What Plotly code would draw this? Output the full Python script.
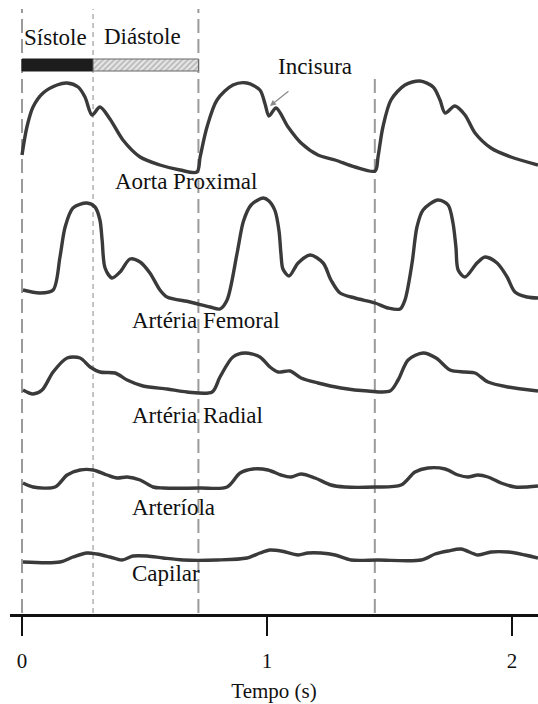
import plotly.graph_objects as go

# ---- pressure pulse recordings (time in s, relative amplitude) ----
aorta_t = [0.000, 0.020, 0.045, 0.086, 0.143, 0.184, 0.229, 0.257, 0.286, 0.318,
           0.359, 0.412, 0.482, 0.563, 0.645, 0.714, 0.727, 0.755, 0.796, 0.861,
           0.918, 0.971, 0.992, 1.008, 1.037, 1.086, 1.139, 1.208, 1.278, 1.359,
           1.441, 1.453, 1.473, 1.506, 1.563, 1.624, 1.678, 1.706, 1.727, 1.767,
           1.808, 1.849, 1.914, 1.996, 2.106]
aorta_v = [17, 45, 65, 79, 87, 89, 85, 75, 57, 65,
           53, 32, 15, 7, 2, 0, 15, 45, 72, 87,
           89, 82, 68, 56, 64, 45, 29, 17, 12, 5,
           1, 15, 45, 72, 87, 91, 85, 72, 59, 66,
           57, 39, 24, 15, 7]

femoral_t = [0.004, 0.073, 0.127, 0.155, 0.176, 0.208, 0.265, 0.298, 0.318, 0.327,
             0.339, 0.367, 0.400, 0.441, 0.482, 0.522, 0.563, 0.592, 0.686, 0.767,
             0.808, 0.837, 0.878, 0.904, 0.935, 0.984, 1.008, 1.033, 1.049, 1.057,
             1.065, 1.090, 1.127, 1.176, 1.229, 1.261, 1.298, 1.359, 1.441, 1.494,
             1.543, 1.563, 1.592, 1.612, 1.637, 1.698, 1.739, 1.759, 1.771, 1.780,
             1.808, 1.857, 1.890, 1.939, 1.980, 2.012, 2.061, 2.106]
femoral_v = [19, 16, 19, 52, 82, 101, 106, 102, 89, 69,
             41, 31, 37, 50, 47, 36, 19, 12, 7, 2,
             0, 9, 56, 88, 104, 111, 108, 98, 78, 55,
             40, 33, 46, 54, 46, 29, 16, 11, 6, 1,
             0, 9, 46, 82, 99, 109, 104, 86, 62, 39,
             32, 46, 52, 46, 32, 17, 12, 11]

radial_t = [0.004, 0.045, 0.082, 0.127, 0.184, 0.237, 0.278, 0.318, 0.380, 0.429,
            0.494, 0.592, 0.673, 0.776, 0.808, 0.861, 0.910, 0.971, 1.012, 1.045,
            1.094, 1.139, 1.208, 1.302, 1.412, 1.502, 1.535, 1.576, 1.637, 1.690,
            1.747, 1.808, 1.849, 1.902, 1.984, 2.106]
radial_v = [4, 0, 4, 22, 36, 36, 27, 22, 21, 14,
            8, 5, 2, 2, 17, 37, 41, 37, 27, 22,
            23, 16, 11, 6, 3, 3, 14, 34, 41, 36,
            24, 22, 21, 12, 7, 3]

arteriole_t = [0.004, 0.045, 0.135, 0.184, 0.237, 0.290, 0.347, 0.388, 0.429, 0.482,
               0.535, 0.576, 0.727, 0.837, 0.890, 0.943, 1.004, 1.057, 1.098, 1.139,
               1.196, 1.261, 1.318, 1.441, 1.547, 1.604, 1.657, 1.727, 1.780, 1.820,
               1.861, 1.902, 1.955, 2.012, 2.106]
arteriole_v = [5, 1, 1, 13, 18, 18, 13, 10, 11, 8,
               1, 0, 0, 1, 15, 19, 18, 13, 11, 14,
               10, 3, 1, 1, 3, 16, 20, 19, 13, 11,
               13, 11, 5, 1, 2]

capillary_t = [0.004, 0.155, 0.208, 0.265, 0.306, 0.359, 0.408, 0.453, 0.510, 0.576,
               0.657, 0.796, 0.918, 0.971, 1.012, 1.057, 1.127, 1.167, 1.220, 1.278,
               1.343, 1.453, 1.629, 1.686, 1.739, 1.792, 1.861, 1.914, 1.984, 2.053,
               2.106]
capillary_v = [0, 0, 5, 9, 8, 5, 2, 6, 6, 4,
               2, 2, 4, 9, 12, 11, 7, 9, 9, 7,
               2, 2, 2, 8, 11, 13, 7, 10, 10, 7,
               4]

# cardiac cycle events (s): start, end of systole, end of cycle, end of 2nd cycle
cycle_marks = [0.0, 0.29, 0.72, 1.44]
systole_end = 0.29
cycle_end = 0.72

tick_vals = [0, 1, 2]
tick_text = ["0", "1", "2"]

SERIF = "Liberation Serif, Times New Roman, serif"
INK = "#3a3a3a"

# vertical stacking of the five recordings
series = [
    ("Aorta Proximal", aorta_t, aorta_v, 442),
    ("Artéria Femoral", femoral_t, femoral_v, 305),
    ("Artéria Radial", radial_t, radial_v, 220),
    ("Arteríola", arteriole_t, arteriole_v, 126),
    ("Capilar", capillary_t, capillary_v, 52),
]
label_pos = {
    "Aorta Proximal": (0.371, 433),
    "Artéria Femoral": (0.441, 294),
    "Artéria Radial": (0.441, 199),
    "Arteríola": (0.441, 107),
    "Capilar": (0.441, 41),
}

fig = go.Figure()

for name, t, v, base in series:
    fig.add_trace(go.Scatter(
        x=t, y=[base + val for val in v], mode="lines", name=name,
        line=dict(color=INK, width=3.4, shape="spline", smoothing=0.85),
        showlegend=False, hoverinfo="skip",
    ))

# systole / diastole bar
bar_y = 549
fig.add_trace(go.Bar(
    orientation="h", y=[bar_y], x=[systole_end], base=[0], width=[12],
    marker=dict(color="#1c1c1c", line=dict(color="#1c1c1c", width=1)),
    showlegend=False, hoverinfo="skip",
))
fig.add_trace(go.Bar(
    orientation="h", y=[bar_y], x=[cycle_end - systole_end], base=[systole_end], width=[12],
    marker=dict(color="white",
                pattern=dict(shape="/", fgcolor="#8a8a8a", bgcolor="#e6e6e6", size=4, solidity=0.45),
                line=dict(color="#666666", width=1)),
    showlegend=False, hoverinfo="skip",
))

# dashed event markers
shapes = []
tops = [605, 605, 605, 536]
for m, top in zip(cycle_marks, tops):
    fine = (m == systole_end)
    shapes.append(dict(
        type="line", xref="x", yref="y", x0=m, x1=m, y0=1, y1=top, layer="below",
        line=dict(color="#b0b0b0" if fine else "#9a9a9a",
                  width=1.5 if fine else 2,
                  dash="5px,4px" if fine else "14px,6px"),
    ))

annotations = []
for name, (lx, ly) in label_pos.items():
    annotations.append(dict(x=lx, y=ly, xref="x", yref="y", text=name, showarrow=False,
                            xanchor="left", yanchor="middle",
                            font=dict(family=SERIF, size=23, color="#111")))
annotations += [
    dict(x=0.135, y=577, xref="x", yref="y", text="Sístole", showarrow=False,
         font=dict(family=SERIF, size=23, color="#111")),
    dict(x=0.492, y=578, xref="x", yref="y", text="Diástole", showarrow=False,
         font=dict(family=SERIF, size=23, color="#111")),
    dict(x=1.196, y=548, xref="x", yref="y", text="Incisura", showarrow=False,
         font=dict(family=SERIF, size=23, color="#111")),
    # arrow pointing at the dicrotic notch
    dict(x=1.012, y=508, xref="x", yref="y", text="", showarrow=True,
         ax=20, ay=-16, arrowhead=2, arrowsize=1, arrowwidth=1.2, arrowcolor="#8a8a8a"),
]

fig.update_layout(
    width=538, height=704,
    margin=dict(l=10, r=0, t=0, b=90),
    paper_bgcolor="white", plot_bgcolor="white",
    barmode="overlay",
    shapes=shapes, annotations=annotations,
    xaxis=dict(
        range=[-0.049, 2.106], tickvals=tick_vals, ticktext=tick_text,
        ticks="outside", ticklen=19, tickwidth=2, tickcolor="#111",
        showline=True, linecolor="#111", linewidth=2.5,
        showgrid=False, zeroline=False, fixedrange=True,
        tickfont=dict(family=SERIF, size=21, color="#111"),
        ticklabelstandoff=7,
        title=dict(text="Tempo (s)", font=dict(family=SERIF, size=21, color="#111"), standoff=12),
    ),
    xaxis2=dict(
        overlaying="x", matches="x", side="bottom", range=[-0.049, 2.106],
        tickvals=tick_vals, ticks="inside", ticklen=16, tickwidth=2, tickcolor="#111",
        showticklabels=False, showline=False, showgrid=False, zeroline=False,
    ),
    yaxis=dict(range=[0, 614], visible=False, fixedrange=True),
)

fig.write_html("out.html")
